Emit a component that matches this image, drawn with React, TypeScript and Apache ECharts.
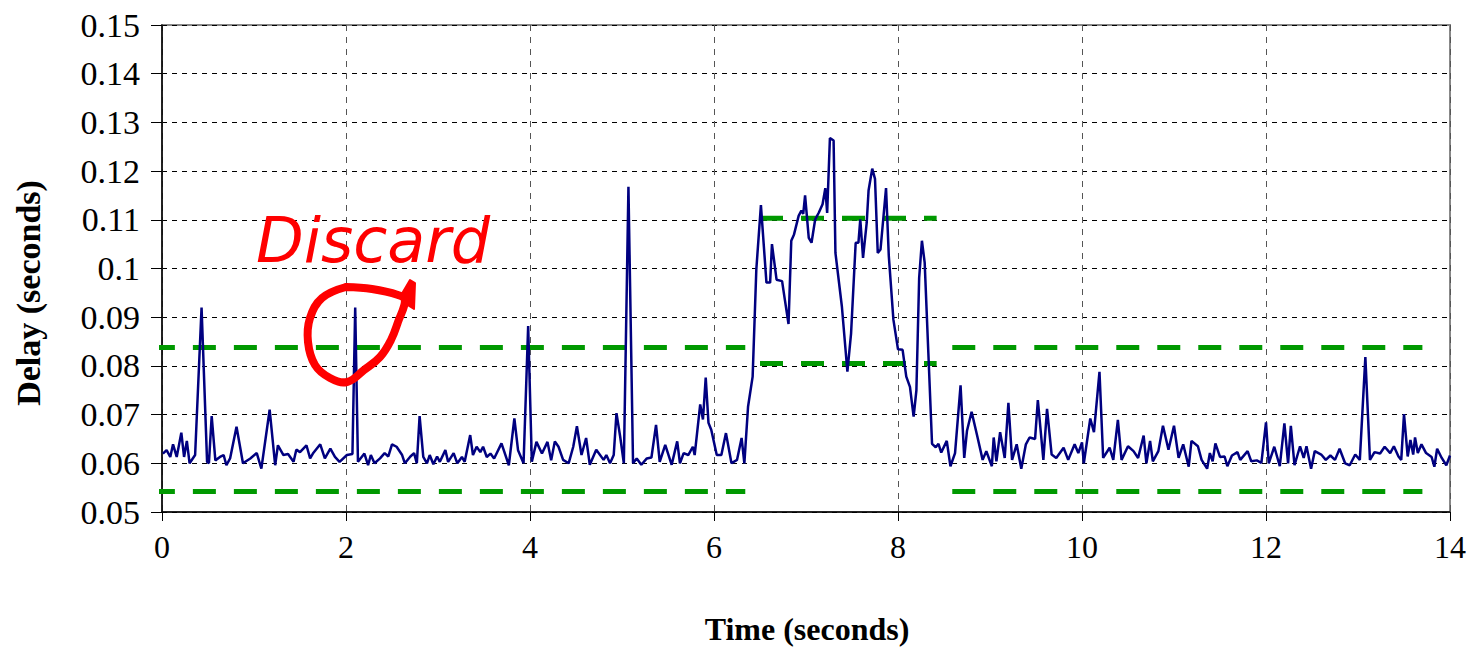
import React, { useEffect, useRef } from "react";
import * as echarts from "echarts";

// Delay samples [time (s), delay (s)]
const delay0to2: number[][] = [
  [0.01, 0.062], [0.05, 0.0627], [0.09, 0.0613], [0.12, 0.0639], [0.16, 0.0613], [0.21, 0.0663],
  [0.24, 0.0613], [0.27, 0.0646], [0.3, 0.06], [0.36, 0.0617], [0.43, 0.092], [0.49, 0.0603],
  [0.51, 0.06], [0.54, 0.0697], [0.58, 0.0606], [0.63, 0.0613], [0.67, 0.0617], [0.7, 0.0596],
  [0.74, 0.061], [0.81, 0.0675], [0.88, 0.06], [0.96, 0.061], [1.03, 0.0621], [1.08, 0.0589],
  [1.17, 0.071], [1.23, 0.0596], [1.26, 0.0637], [1.32, 0.0617], [1.37, 0.0619], [1.43, 0.0603],
  [1.46, 0.0628], [1.5, 0.0623], [1.57, 0.0637], [1.61, 0.061], [1.64, 0.062], [1.72, 0.0639],
  [1.77, 0.061], [1.83, 0.063], [1.88, 0.0613], [1.93, 0.0603], [2.01, 0.0617], [2.07, 0.0619],
];
const delay2to4: number[][] = [
  [2.1, 0.092], [2.13, 0.0603], [2.2, 0.062], [2.24, 0.0596], [2.27, 0.0617], [2.31, 0.06],
  [2.37, 0.061], [2.42, 0.0621], [2.46, 0.0614], [2.5, 0.0639], [2.55, 0.0634], [2.61, 0.0617],
  [2.64, 0.06], [2.7, 0.0614], [2.74, 0.0621], [2.77, 0.06], [2.8, 0.0697], [2.84, 0.0613],
  [2.88, 0.06], [2.91, 0.0617], [2.95, 0.0598], [2.99, 0.0614], [3.02, 0.0603], [3.08, 0.0627],
  [3.11, 0.0603], [3.17, 0.0621], [3.21, 0.06], [3.26, 0.0613], [3.29, 0.0603], [3.35, 0.0658],
  [3.38, 0.0617], [3.42, 0.0634], [3.46, 0.0623], [3.49, 0.0634], [3.53, 0.0613], [3.57, 0.062],
  [3.61, 0.061], [3.69, 0.0641], [3.77, 0.0596], [3.83, 0.0692], [3.87, 0.0627], [3.93, 0.06],
  [3.98, 0.0882],
];
const delay4to6: number[][] = [
  [4.02, 0.0603], [4.07, 0.0644], [4.13, 0.062], [4.19, 0.0644], [4.23, 0.0606], [4.27, 0.0645],
  [4.31, 0.0634], [4.36, 0.0607], [4.42, 0.06], [4.47, 0.0634], [4.51, 0.0676], [4.56, 0.0617],
  [4.61, 0.0652], [4.65, 0.0597], [4.72, 0.0628], [4.8, 0.0607], [4.83, 0.0617], [4.87, 0.06],
  [4.91, 0.0617], [4.94, 0.0703], [4.98, 0.0655], [5.02, 0.06], [5.07, 0.1168], [5.12, 0.06],
  [5.16, 0.061], [5.21, 0.0597], [5.27, 0.061], [5.32, 0.0612], [5.37, 0.0679], [5.41, 0.0603],
  [5.47, 0.0638], [5.54, 0.0597], [5.6, 0.0645], [5.63, 0.06], [5.67, 0.0621], [5.72, 0.0617],
  [5.77, 0.0634], [5.79, 0.0617], [5.85, 0.0721], [5.88, 0.069], [5.91, 0.0776], [5.94, 0.0683],
  [5.97, 0.0669],
];
const delay6to8: number[][] = [
  [6.03, 0.0617], [6.08, 0.0617], [6.13, 0.0662], [6.19, 0.06], [6.25, 0.0607], [6.3, 0.0652],
  [6.33, 0.06], [6.37, 0.0716], [6.42, 0.0778], [6.46, 0.0998], [6.51, 0.113], [6.57, 0.0971],
  [6.61, 0.0971], [6.63, 0.105], [6.68, 0.0977], [6.74, 0.0974], [6.77, 0.0936], [6.81, 0.0886],
  [6.84, 0.1057], [6.87, 0.107], [6.92, 0.1108], [6.95, 0.1119], [6.97, 0.1112], [6.99, 0.115],
  [7.03, 0.1063], [7.06, 0.1053], [7.1, 0.1101], [7.14, 0.1115], [7.18, 0.1132], [7.21, 0.1165],
  [7.23, 0.1114], [7.26, 0.1268], [7.3, 0.1263], [7.32, 0.1032], [7.39, 0.0922], [7.45, 0.0788],
  [7.49, 0.0867], [7.54, 0.1053], [7.57, 0.1053], [7.59, 0.1101], [7.62, 0.1022], [7.66, 0.1094],
  [7.68, 0.116], [7.72, 0.1205], [7.75, 0.1184], [7.78, 0.1032], [7.81, 0.1039], [7.87, 0.1165],
  [7.9, 0.1026], [7.95, 0.0895],
];
const delay8to10: number[][] = [
  [8.0, 0.0834], [8.05, 0.0833], [8.09, 0.0778], [8.13, 0.0757], [8.17, 0.0696], [8.2, 0.075],
  [8.23, 0.0981], [8.26, 0.1057], [8.29, 0.1012], [8.33, 0.0826], [8.37, 0.064], [8.41, 0.0633],
  [8.44, 0.064], [8.47, 0.0622], [8.53, 0.0646], [8.57, 0.0594], [8.62, 0.0621], [8.68, 0.076],
  [8.72, 0.0611], [8.75, 0.0667], [8.8, 0.0706], [8.86, 0.0657], [8.92, 0.0607], [8.96, 0.0625],
  [9.02, 0.0594], [9.04, 0.0653], [9.07, 0.0604], [9.11, 0.0664], [9.16, 0.0611], [9.2, 0.0724],
  [9.24, 0.0607], [9.29, 0.0639], [9.34, 0.0589], [9.39, 0.0639], [9.43, 0.0653], [9.49, 0.065],
  [9.52, 0.073], [9.58, 0.0607], [9.62, 0.0712], [9.67, 0.0618], [9.72, 0.0611], [9.8, 0.0632],
  [9.85, 0.0607], [9.92, 0.0639], [9.96, 0.0621],
];
const delay10to12: number[][] = [
  [10.0, 0.0643], [10.02, 0.06], [10.09, 0.0692], [10.13, 0.0664], [10.19, 0.0788], [10.23, 0.0611],
  [10.3, 0.0632], [10.34, 0.0607], [10.39, 0.0689], [10.43, 0.0607], [10.5, 0.0635], [10.56, 0.0625],
  [10.61, 0.0611], [10.67, 0.0657], [10.7, 0.06], [10.74, 0.0646], [10.77, 0.0604], [10.83, 0.0625],
  [10.88, 0.0677], [10.94, 0.0628], [11.0, 0.0677], [11.05, 0.0611], [11.1, 0.0639], [11.16, 0.0593],
  [11.19, 0.0646], [11.26, 0.0635], [11.3, 0.0607], [11.36, 0.0589], [11.39, 0.0621], [11.42, 0.0604],
  [11.45, 0.0641], [11.5, 0.0613], [11.55, 0.0614], [11.58, 0.0594], [11.63, 0.0616], [11.69, 0.0623],
  [11.72, 0.0607], [11.8, 0.0625], [11.84, 0.0604], [11.9, 0.0606], [11.95, 0.0601],
];
const delay12to14: number[][] = [
  [12.0, 0.0684], [12.03, 0.06], [12.09, 0.0634], [12.15, 0.0594], [12.2, 0.0682], [12.24, 0.06],
  [12.27, 0.0677], [12.31, 0.0596], [12.37, 0.0635], [12.41, 0.0611], [12.44, 0.0635], [12.49, 0.0589],
  [12.53, 0.0625], [12.6, 0.0618], [12.65, 0.0607], [12.7, 0.0616], [12.75, 0.0607], [12.8, 0.063],
  [12.86, 0.06], [12.91, 0.0596], [12.97, 0.0618], [13.02, 0.0607], [13.08, 0.0818], [13.13, 0.0607],
  [13.18, 0.0623], [13.24, 0.062], [13.29, 0.0634], [13.35, 0.0621], [13.39, 0.0635], [13.44, 0.0614],
  [13.47, 0.0607], [13.5, 0.0701], [13.54, 0.0614], [13.57, 0.0648], [13.6, 0.0618], [13.62, 0.0653],
  [13.65, 0.0621], [13.69, 0.0639], [13.74, 0.0621], [13.8, 0.0613], [13.83, 0.0593], [13.86, 0.063],
  [13.91, 0.0611], [13.96, 0.0596], [14.0, 0.0616],
];

// Threshold bands (green dashed)
const normalUpper = 0.0838;
const normalLower = 0.0542;
const congestedUpper = 0.1103;
const congestedLower = 0.0805;
const normalSpans: number[][] = [[-0.11, 6.34], [8.59, 13.7]];
const congestedSpan: number[] = [6.5, 8.42];

const xMin = 0, xMax = 14, xStep = 2;
const yMin = 0.05, yMax = 0.15, yStep = 0.01;

const allDelays = [
  ...delay0to2, ...delay2to4, ...delay4to6, ...delay6to8,
  ...delay8to10, ...delay10to12, ...delay12to14,
];

const greenStyle = { color: "#009900", width: 5, type: [23, 18] as number[] };

function band(span: number[], y: number) {
  return {
    type: "line",
    data: [[span[0], y], [span[1], y]],
    symbol: "none",
    clip: false,
    silent: true,
    lineStyle: greenStyle,
    z: 2,
  };
}

export default function App() {
  const ref = useRef<HTMLDivElement>(null);
  useEffect(() => {
    const chart = echarts.init(ref.current!, null, { renderer: "svg" });
    const serif = '"Liberation Serif", "Times New Roman", serif';
    chart.setOption({
      animation: false,
      backgroundColor: "#ffffff",
      grid: {
        left: 162, right: 20, top: 25, bottom: 135,
        show: true, borderColor: "#888888", borderWidth: 2, backgroundColor: "transparent",
      },
      xAxis: {
        type: "value", min: xMin, max: xMax, interval: xStep,
        axisLine: { lineStyle: { color: "#000", width: 1.5 } },
        axisTick: { show: true, length: 9, lineStyle: { color: "#000" } },
        axisLabel: { fontFamily: serif, fontSize: 32, color: "#000", margin: 19 },
        splitLine: { show: true, lineStyle: { color: "#555", width: 1, type: [6, 6] } },
      },
      yAxis: {
        type: "value", min: yMin, max: yMax, interval: yStep,
        axisLine: { show: true, lineStyle: { color: "#000", width: 1.5 } },
        axisTick: { show: true, length: 11, lineStyle: { color: "#000" } },
        axisLabel: {
          fontFamily: serif, fontSize: 34, color: "#000", margin: 22,
          formatter: (v: number) => String(+v.toFixed(2)),
        },
        splitLine: { show: true, lineStyle: { color: "#000", width: 1, type: [5, 5] } },
      },
      series: [
        band(normalSpans[0], normalUpper),
        band(normalSpans[0], normalLower),
        band(normalSpans[1], normalUpper),
        band(normalSpans[1], normalLower),
        band(congestedSpan, congestedUpper),
        band(congestedSpan, congestedLower),
        {
          type: "line",
          name: "Delay",
          data: allDelays,
          symbol: "none",
          lineStyle: { color: "#000080", width: 2.5 },
          z: 3,
        },
      ],
      graphic: [
        {
          type: "text", x: 28, y: 293, rotation: Math.PI / 2,
          style: {
            text: "Delay (seconds)", font: `bold 34px ${serif}`, fill: "#000",
            textAlign: "center", textVerticalAlign: "middle",
          },
        },
        {
          type: "text", x: 807, y: 629,
          style: {
            text: "Time (seconds)", font: `bold 32px ${serif}`, fill: "#000",
            textAlign: "center", textVerticalAlign: "middle",
          },
        },
        {
          type: "text", x: 256, y: 240,
          style: {
            text: "Discard", font: 'italic 62px "DejaVu Sans", sans-serif', fill: "#ff0000",
            textAlign: "left", textVerticalAlign: "middle",
          },
          z: 10,
        },
        {
          type: "polyline", z: 10,
          shape: {
            points: [
              [346, 287], [372, 289], [398, 295], [405, 300], [398, 322], [391, 340],
              [380, 357], [364, 370], [347, 382], [330, 378], [315, 365], [308, 342],
              [310, 318], [322, 298], [346, 287],
            ],
            smooth: 0.4,
          },
          style: { stroke: "#ff0000", lineWidth: 8, fill: null, lineCap: "round", lineJoin: "round" },
        },
        {
          type: "polygon", z: 10,
          shape: { points: [[400, 297], [410, 280], [415, 283], [414, 309], [406, 304]] },
          style: { fill: "#ff0000", stroke: "#ff0000", lineWidth: 2, lineJoin: "round" },
        },
      ],
    });
    return () => chart.dispose();
  }, []);
  return (
    <div
      ref={ref}
      style={{ position: "fixed", left: 0, top: 0, width: 1470, height: 647, background: "#fff" }}
    />
  );
}
